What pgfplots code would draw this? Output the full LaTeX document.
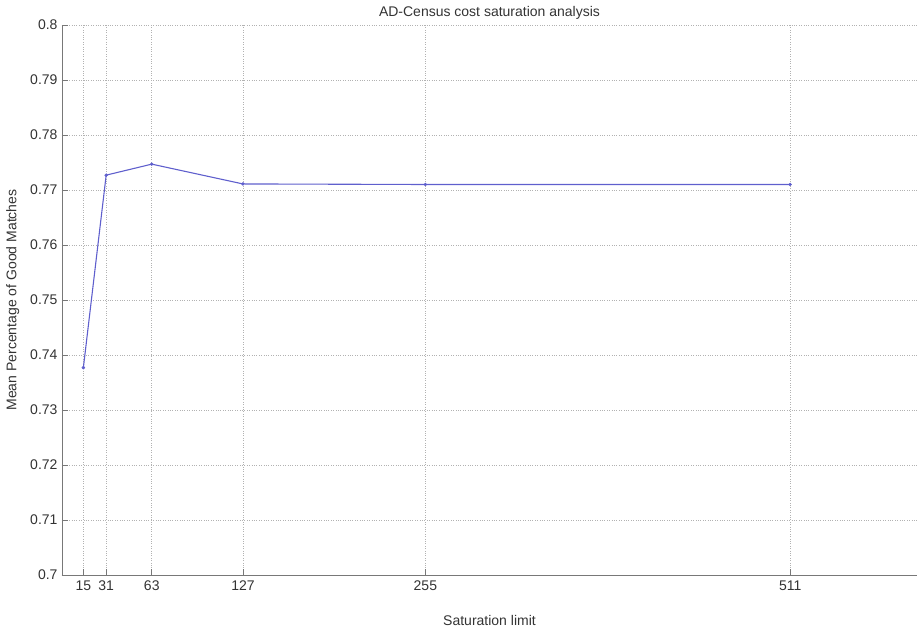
\documentclass[border=0pt]{standalone}
\usepackage{pgfplots}
\pgfplotsset{compat=1.18}
\usepackage{fontspec}
\setmainfont{Liberation Sans}
\definecolor{lineblue}{RGB}{95,95,205}
\definecolor{axgray}{RGB}{120,120,120}
\begin{document}
\begin{tikzpicture}
\useasboundingbox (0,0) rectangle (919pt,634pt);
\begin{axis}[
  at={(62pt,59pt)}, anchor=south west,
  scale only axis,
  width=855pt, height=550pt,
  xmin=0, xmax=600, ymin=0.7, ymax=0.8,
  axis lines=left,
  axis line style={axgray, -, line width=0.9pt},
  xtick={15,31,63,127,255,511},
  ytick={0.7,0.71,0.72,0.73,0.74,0.75,0.76,0.77,0.78,0.79,0.8},
  yticklabels={0.7,0.71,0.72,0.73,0.74,0.75,0.76,0.77,0.78,0.79,0.8},
  tick align=inside,
  major tick length=6pt,
  tick style={axgray, line width=0.9pt},
  grid=major,
  grid style={dotted, gray!60, line width=0.7pt},
  /pgf/number format/assume math mode=true,
  ticklabel style={font=\fontsize{14}{16}\selectfont, text=black!80},
  xticklabel style={yshift=-2pt},
  yticklabel style={xshift=-1pt},
  title={AD-Census cost saturation analysis},
  title style={font=\fontsize{14}{16}\selectfont, text=black!80, yshift=-4pt},
  xlabel={Saturation limit},
  ylabel={Mean Percentage of Good Matches},
  label style={font=\fontsize{14}{16}\selectfont, text=black!80},
  xlabel style={yshift=-18pt},
  ylabel style={yshift=4pt},
  clip=false,
]
\addplot[lineblue, line width=1.1pt]
  coordinates {(15,0.7377) (31,0.7727) (63,0.7747) (127,0.7711) (191,0.77105) (255,0.7710) (511,0.7710)};
\addplot[only marks, lineblue, mark=*, mark size=1.5pt, mark options={fill=lineblue}]
  coordinates {(15,0.7377) (31,0.7727) (63,0.7747) (127,0.7711) (255,0.7710) (511,0.7710)};
\end{axis}
\end{tikzpicture}
\end{document}
